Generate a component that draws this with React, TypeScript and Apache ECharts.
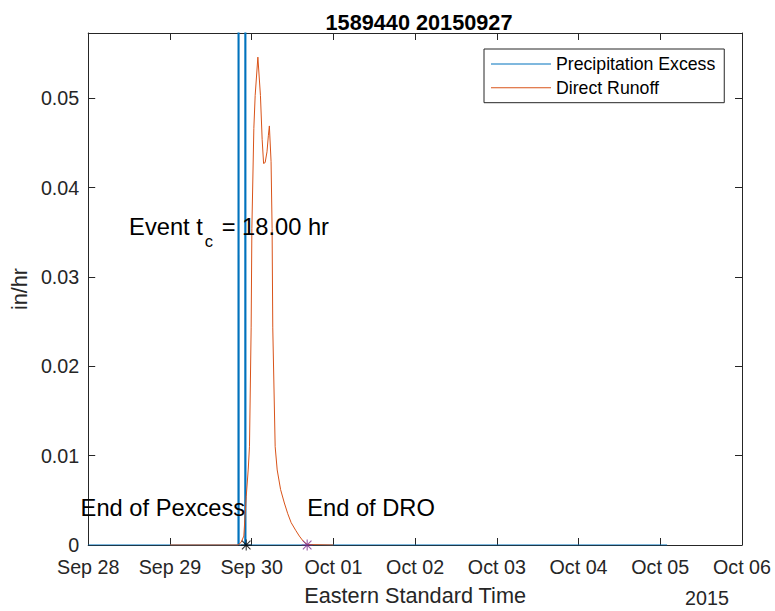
import React, { useEffect, useRef } from "react";
import * as echarts from "echarts";

// ---- data (hours after Sep 28 00:00) ----
const xTickLabels = ["Sep 28", "Sep 29", "Sep 30", "Oct 01", "Oct 02", "Oct 03", "Oct 04", "Oct 05", "Oct 06"];
const yearLabel = "2015";
const titleText = "1589440 20150927";

const precipHours = [0, 44.0, 44.15, 44.3, 46.0, 46.15, 46.3, 170];
const precipValues = [0, 0, 0.45, 0, 0, 0.62, 0, 0];

const runoffHours = [24, 44, 44.9, 45.7, 46.4, 47.0, 47.36, 47.85, 48.06, 48.64, 49.03, 49.82, 50.58, 51.08, 51.5, 51.96, 52.5, 52.9, 53.2, 53.7, 54.0, 54.2, 54.9, 55.5, 56.5, 57.6, 58.6, 59.6, 61.0, 62.0, 63.2, 64.3, 72];
const runoffValues = [0, 0, 0.0003, 0.001, 0.0054, 0.0085, 0.011, 0.0243, 0.0354, 0.0466, 0.0503, 0.0546, 0.0503, 0.0454, 0.0427, 0.0428, 0.044, 0.0458, 0.0469, 0.0429, 0.0354, 0.0243, 0.011, 0.0084, 0.0062, 0.0047, 0.0035, 0.0025, 0.0016, 0.001, 0.0004, 0.00005, 0];

const endPexcessPoint = [46.4, 0];
const endDroPoint = [64.3, 0];

const eventTcPos = [12, 0.0356];
const endPexcessLabelPos = [46.4, 0.0041];
const endDroLabelPos = [64.3, 0.0041];

const FONT = "'Liberation Sans', Arial, Helvetica, sans-serif";
const AXIS_COLOR = "#262626";
const ASTERISK =
  "path://M0,45L100,45L100,55L0,55Z M45,0L55,0L55,100L45,100Z M14.6,7.5L92.5,85.4L85.4,92.5L7.5,14.6Z M85.4,7.5L92.5,14.6L14.6,92.5L7.5,85.4Z";
const LEGEND_LINE = "path://M0,0L60,0L60,1L0,1Z";

export default function App() {
  const ref = useRef<HTMLDivElement>(null);

  useEffect(() => {
    if (!ref.current) return;
    const chart = echarts.init(ref.current, undefined, { renderer: "svg" });

    const xCommon = {
      type: "value" as const,
      min: 0,
      max: 192,
      interval: 24,
      splitLine: { show: false },
      axisLine: { show: true, onZero: false, lineStyle: { color: AXIS_COLOR, width: 1 } },
      axisTick: { show: true, inside: true, length: 7, lineStyle: { color: AXIS_COLOR } },
    };
    const yCommon = {
      type: "value" as const,
      min: 0,
      max: 0.0573,
      interval: 0.01,
      splitLine: { show: false },
      axisLine: { show: true, onZero: false, lineStyle: { color: AXIS_COLOR, width: 1 } },
      axisTick: { show: true, inside: true, length: 7, lineStyle: { color: AXIS_COLOR } },
    };

    const option: any = {
      animation: false,
      backgroundColor: "#ffffff",
      textStyle: { fontFamily: FONT },
      title: {
        text: titleText,
        left: 414,
        top: 6,
        textAlign: "center",
        textStyle: { fontFamily: FONT, fontSize: 21.7, fontWeight: "bold", color: "#000" },
      },
      grid: { left: 87, top: 33, width: 655, height: 516, containLabel: false },
      legend: {
        orient: "vertical",
        left: 484,
        top: 49,
        padding: [6, 9, 6, 7],
        itemWidth: 60,
        itemHeight: 17,
        itemGap: 5.7,
        icon: LEGEND_LINE,
        backgroundColor: "#ffffff",
        borderColor: AXIS_COLOR,
        borderWidth: 1,
        borderRadius: 0,
        textStyle: { fontFamily: FONT, fontSize: 17.7, color: "#000", padding: [0, 0, 0, 0] },
        data: ["Precipitation Excess", "Direct Runoff"],
      },
      xAxis: [
        {
          ...xCommon,
          position: "bottom",
          name: "Eastern Standard Time",
          nameLocation: "middle",
          nameGap: 39,
          nameTextStyle: { fontFamily: FONT, fontSize: 21.7, color: AXIS_COLOR },
          axisLabel: {
            show: true,
            margin: 12,
            fontFamily: FONT,
            fontSize: 19.7,
            color: AXIS_COLOR,
            formatter: (v: number) => xTickLabels[Math.round(v / 24)] ?? "",
          },
        },
        { ...xCommon, position: "top", axisLabel: { show: false } },
      ],
      yAxis: [
        {
          ...yCommon,
          position: "left",
          name: "in/hr",
          nameLocation: "middle",
          nameGap: 54,
          nameTextStyle: { fontFamily: FONT, fontSize: 21.7, color: AXIS_COLOR },
          axisLabel: {
            show: true,
            margin: 9,
            fontFamily: FONT,
            fontSize: 19.7,
            color: AXIS_COLOR,
            showMaxLabel: false,
            formatter: (v: number) => (Math.abs(v) < 1e-9 ? "0" : v.toFixed(2)),
          },
        },
        { ...yCommon, position: "right", axisLabel: { show: false } },
      ],
      series: [
        {
          name: "Precipitation Excess",
          type: "line",
          xAxisIndex: 0,
          yAxisIndex: 0,
          data: precipHours.map((h, i) => [h, precipValues[i]]),
          symbol: "none",
          clip: true,
          lineStyle: { color: "#0072BD", width: 1.2 },
          itemStyle: { color: "#0072BD" },
          z: 2,
        },
        {
          name: "Direct Runoff",
          type: "line",
          xAxisIndex: 0,
          yAxisIndex: 0,
          data: runoffHours.map((h, i) => [h, runoffValues[i]]),
          symbol: "none",
          clip: true,
          lineStyle: { color: "#D95319", width: 1 },
          itemStyle: { color: "#D95319" },
          z: 3,
        },
        {
          name: "End Pexcess",
          type: "scatter",
          data: [endPexcessPoint],
          symbol: ASTERISK,
          symbolSize: 11,
          itemStyle: { color: "#000000" },
          z: 4,
          silent: true,
        },
        {
          name: "End DRO",
          type: "scatter",
          data: [endDroPoint],
          symbol: ASTERISK,
          symbolSize: 11,
          itemStyle: { color: "#7E2F8E" },
          z: 4,
          silent: true,
        },
      ],
    };

    chart.setOption(option);

    const px = (p: number[]) => chart.convertToPixel({ seriesIndex: 1 }, p) as number[];
    const ev = px(eventTcPos);
    const ep = px(endPexcessLabelPos);
    const ed = px(endDroLabelPos);
    const rightEnd = px([192, 0]);

    chart.setOption({
      graphic: [
        {
          type: "text",
          x: ev[0],
          y: ev[1] - 12,
          z: 10,
          style: {
            text: "{a|Event t}{s|c}{a| = 18.00 hr}",
            align: "left",
            verticalAlign: "top",
            fill: "#000",
            fontFamily: FONT,
            rich: {
              a: { fontFamily: FONT, fontSize: 23.7, lineHeight: 24, verticalAlign: "top", fill: "#000" },
              s: { fontFamily: FONT, fontSize: 16.5, lineHeight: 16, padding: [18, 2, 0, 2], verticalAlign: "top", fill: "#000" },
            },
          },
        },
        {
          type: "text",
          x: ep[0] - 1,
          y: ep[1],
          z: 10,
          style: { text: "End of Pexcess", align: "right", verticalAlign: "middle", fontFamily: FONT, fontSize: 23.7, fill: "#000" },
        },
        {
          type: "text",
          x: ed[0],
          y: ed[1],
          z: 10,
          style: { text: "End of DRO", align: "left", verticalAlign: "middle", fontFamily: FONT, fontSize: 23.7, fill: "#000" },
        },
        {
          type: "text",
          x: rightEnd[0] - 35,
          y: 598,
          z: 10,
          style: { text: yearLabel, align: "center", verticalAlign: "middle", fontFamily: FONT, fontSize: 19.7, fill: AXIS_COLOR },
        },
      ],
    });

    return () => chart.dispose();
  }, []);

  return (
    <div
      ref={ref}
      style={{ position: "fixed", left: 0, top: 0, width: 775, height: 611, background: "#fff" }}
    />
  );
}
